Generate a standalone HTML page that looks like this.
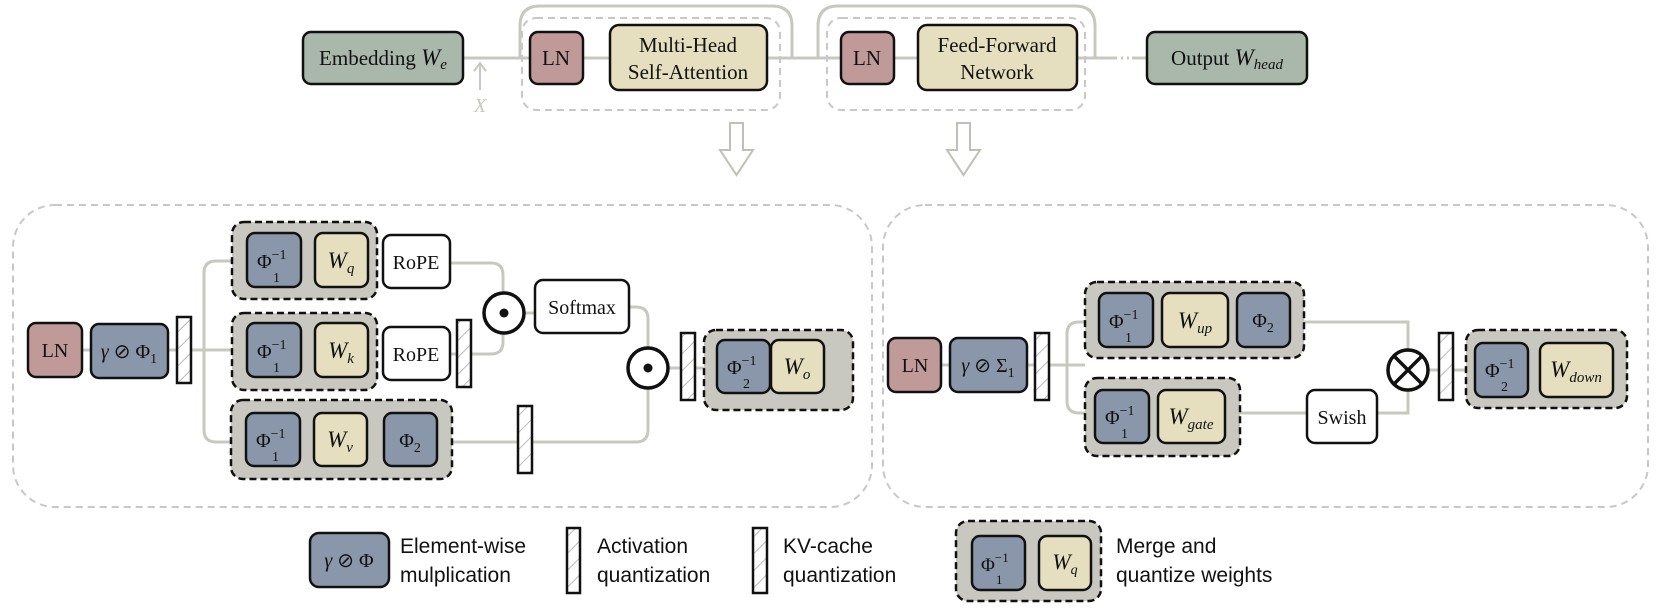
<!DOCTYPE html>
<html><head><meta charset="utf-8"><style>
html,body{margin:0;padding:0;background:#fff;}
svg{display:block;}
.s{font-family:"Liberation Serif",serif;fill:#111;}
.a{font-family:"Liberation Sans",sans-serif;fill:#111;font-size:21px;}
.i{font-style:italic;}
</style></head><body>
<svg width="1661" height="608" viewBox="0 0 1661 608" xmlns="http://www.w3.org/2000/svg">
<defs>
<pattern id="h" width="12" height="12" patternUnits="userSpaceOnUse" patternTransform="rotate(45)">
<rect width="12" height="12" fill="#fff"/><line x1="0" y1="0" x2="0" y2="12" stroke="#bbb" stroke-width="2"/>
</pattern>
</defs>
<g fill="none" stroke="#c8c8c0" stroke-width="3">
<!-- top connectors -->
<line x1="463" y1="58" x2="530" y2="58"/>
<line x1="583" y1="58" x2="610" y2="58"/>
<line x1="767" y1="58" x2="841" y2="58"/>
<line x1="894" y1="58" x2="918" y2="58"/>
<line x1="1077" y1="58" x2="1115" y2="58"/>
<line x1="1115" y1="58" x2="1130" y2="58" stroke-dasharray="2,4"/>
<line x1="1132" y1="58" x2="1147" y2="58"/>
<path d="M520 58 V26 Q520 6 540 6 H772 Q792 6 792 26 V58"/>
<path d="M818 58 V26 Q818 6 838 6 H1075 Q1095 6 1095 26 V58"/>
<line x1="480" y1="90" x2="480" y2="64" stroke-width="2"/>
<path d="M474 71 L480 63 L486 71" stroke-width="2"/>
</g>
<g fill="none" stroke="#c8c8c8" stroke-width="2" stroke-dasharray="7,5">
<rect x="522" y="18" width="258" height="92" rx="14"/>
<rect x="827" y="18" width="258" height="92" rx="14"/>
<rect x="13" y="205" width="859" height="302" rx="42"/>
<rect x="883" y="205" width="765" height="302" rx="42"/>
</g>
<text x="474" y="112" class="s i" font-size="20" fill="#c8c8c0" style="fill:#c8c8c0">X</text>
<!-- hollow arrows -->
<g fill="#fff" stroke="#c0c0b8" stroke-width="2">
<path d="M730 123 H743 V150 H753 L736.5 175 L720 150 H730 Z"/>
<path d="M957 123 H970 V150 H980 L963.5 175 L947 150 H957 Z"/>
</g>
<!-- top boxes -->
<g stroke="#111" stroke-width="2.5">
<rect x="303" y="32" width="160" height="52" rx="8" fill="#a9b8aa"/>
<rect x="530" y="32" width="53" height="52" rx="8" fill="#c09a99"/>
<rect x="610" y="25" width="157" height="65" rx="9" fill="#e5dfbf"/>
<rect x="841" y="32" width="53" height="52" rx="8" fill="#c09a99"/>
<rect x="918" y="25" width="159" height="65" rx="9" fill="#e5dfbf"/>
<rect x="1147" y="32" width="160" height="52" rx="8" fill="#a9b8aa"/>
</g>
<text x="383" y="65" class="s" font-size="21" text-anchor="middle">Embedding <tspan class="i" font-size="23">W</tspan><tspan class="i" font-size="15" dy="4">e</tspan></text>
<text x="556" y="65" class="s" font-size="21" text-anchor="middle">LN</text>
<text x="688" y="52" class="s" font-size="21" text-anchor="middle">Multi-Head</text>
<text x="688" y="79" class="s" font-size="21" text-anchor="middle">Self-Attention</text>
<text x="867" y="65" class="s" font-size="21" text-anchor="middle">LN</text>
<text x="997" y="52" class="s" font-size="21" text-anchor="middle">Feed-Forward</text>
<text x="997" y="79" class="s" font-size="21" text-anchor="middle">Network</text>
<text x="1227" y="65" class="s" font-size="21" text-anchor="middle">Output <tspan class="i" font-size="23">W</tspan><tspan class="i" font-size="15" dy="4">head</tspan></text>

<!-- LEFT PANEL connectors -->
<g fill="none" stroke="#c8c8c0" stroke-width="3">
<line x1="82" y1="350" x2="91" y2="350"/>
<line x1="168" y1="350" x2="232" y2="350"/>
<path d="M232 261 H216 Q204 261 204 273 V430 Q204 442 216 442 H231"/>
<path d="M450 263 H491 Q503 263 503 275 V292"/>
<path d="M450 354 H491 Q503 354 503 342 V334"/>
<line x1="525" y1="313" x2="535" y2="313"/>
<path d="M629 307 H636 Q648 307 648 319 V347"/>
<path d="M452 442 H636 Q648 442 648 430 V389"/>
<line x1="669" y1="368" x2="704" y2="368"/>
<line x1="1027" y1="365" x2="1085" y2="365"/>
<line x1="941" y1="365" x2="950" y2="365"/>
<path d="M1085 322 H1079 Q1067 322 1067 334 V401 Q1067 413 1079 413 H1085"/>
<path d="M1304 322 H1408 V349"/>
<path d="M1240 413 H1307"/>
<path d="M1377 413 H1408 V391"/>
<line x1="1429" y1="370" x2="1466" y2="370"/>
</g>
<!-- groups -->
<g fill="#c8c8c0" stroke="#111" stroke-width="2.5" stroke-dasharray="7,4">
<rect x="232" y="222" width="145" height="77" rx="12"/>
<rect x="232" y="313" width="145" height="77" rx="12"/>
<rect x="231" y="400" width="221" height="79" rx="12"/>
<rect x="704" y="330" width="149" height="80" rx="12"/>
<rect x="1085" y="282" width="219" height="76" rx="12"/>
<rect x="1085" y="378" width="155" height="78" rx="12"/>
<rect x="1466" y="330" width="161" height="78" rx="12"/>
<rect x="956" y="521" width="145" height="80" rx="12"/>
</g>
<!-- boxes -->
<g stroke="#111" stroke-width="2.5">
<rect x="28" y="323" width="54" height="54" rx="8" fill="#c09a99"/>
<rect x="91" y="324" width="77" height="54" rx="8" fill="#8a97ab"/>
<rect x="247" y="233" width="54" height="54" rx="8" fill="#8a97ab"/>
<rect x="315" y="233" width="53" height="54" rx="8" fill="#e5dfbf"/>
<rect x="247" y="323" width="54" height="54" rx="8" fill="#8a97ab"/>
<rect x="315" y="323" width="53" height="54" rx="8" fill="#e5dfbf"/>
<rect x="246" y="413" width="54" height="53" rx="8" fill="#8a97ab"/>
<rect x="314" y="413" width="53" height="53" rx="8" fill="#e5dfbf"/>
<rect x="384" y="413" width="53" height="53" rx="8" fill="#8a97ab"/>
<rect x="383" y="235" width="67" height="53" rx="8" fill="#fff"/>
<rect x="383" y="327" width="67" height="53" rx="8" fill="#fff"/>
<rect x="535" y="280" width="94" height="53" rx="8" fill="#fff"/>
<rect x="717" y="340" width="53" height="53" rx="8" fill="#8a97ab"/>
<rect x="771" y="340" width="53" height="53" rx="8" fill="#e5dfbf"/>
<circle cx="504" cy="313" r="20" fill="#fff" stroke-width="3.5"/>
<circle cx="648" cy="368" r="20" fill="#fff" stroke-width="3.5"/>
<rect x="888" y="338" width="53" height="54" rx="8" fill="#c09a99"/>
<rect x="950" y="338" width="77" height="54" rx="8" fill="#8a97ab"/>
<rect x="1099" y="293" width="54" height="54" rx="8" fill="#8a97ab"/>
<rect x="1162" y="293" width="66" height="54" rx="8" fill="#e5dfbf"/>
<rect x="1237" y="293" width="53" height="54" rx="8" fill="#8a97ab"/>
<rect x="1095" y="390" width="54" height="53" rx="8" fill="#8a97ab"/>
<rect x="1158" y="390" width="67" height="53" rx="8" fill="#e5dfbf"/>
<rect x="1307" y="390" width="70" height="53" rx="8" fill="#fff"/>
<circle cx="1408" cy="370" r="20" fill="#fff" stroke-width="3.5"/>
<rect x="1475" y="343" width="53" height="54" rx="8" fill="#8a97ab"/>
<rect x="1540" y="343" width="73" height="54" rx="8" fill="#e5dfbf"/>
<rect x="310" y="533" width="79" height="54" rx="9" fill="#8a97ab"/>
<rect x="972" y="536" width="53" height="54" rx="8" fill="#8a97ab"/>
<rect x="1039" y="536" width="52" height="54" rx="8" fill="#e5dfbf"/>
</g>
<!-- bars -->
<g stroke="#111" stroke-width="2.5" fill="url(#h)">
<rect x="177" y="317" width="14" height="66"/>
<rect x="457" y="320" width="14" height="67"/>
<rect x="518" y="406" width="14" height="67"/>
<rect x="681" y="333" width="14" height="67"/>
<rect x="1035" y="333" width="14" height="67"/>
<rect x="1439" y="333" width="14" height="67"/>
<rect x="567" y="528" width="13" height="65"/>
<rect x="753" y="528" width="14" height="65"/>
</g>
<!-- circle symbols -->
<circle cx="504" cy="313" r="4.5" fill="#111"/>
<circle cx="648" cy="368" r="4.5" fill="#111"/>
<g stroke="#111" stroke-width="3.5"><line x1="1394" y1="356" x2="1422" y2="384"/><line x1="1422" y1="356" x2="1394" y2="384"/></g>

<!-- labels -->
<g class="s" font-size="20">
<text x="55" y="357" text-anchor="middle">LN</text>
<text x="129" y="358" text-anchor="middle"><tspan class="i">γ</tspan> ⊘ Φ<tspan font-size="14" dy="5">1</tspan></text>
<text x="915" y="372" text-anchor="middle">LN</text>
<text x="988" y="372" text-anchor="middle"><tspan class="i">γ</tspan> ⊘ Σ<tspan font-size="14" dy="5">1</tspan></text>
<text x="416" y="269" text-anchor="middle">RoPE</text>
<text x="416" y="361" text-anchor="middle">RoPE</text>
<text x="582" y="314" text-anchor="middle">Softmax</text>
<text x="1342" y="424" text-anchor="middle">Swish</text>
<text x="410" y="447" text-anchor="middle">Φ<tspan font-size="14" dy="5">2</tspan></text>
<text x="1263" y="327" text-anchor="middle">Φ<tspan font-size="14" dy="5">2</tspan></text>
</g>
<!-- Phi inverse labels -->
<g class="s">
<text x="257" y="268" font-size="20">Φ<tspan font-size="14" dy="-9">−1</tspan></text><text x="273" y="282" font-size="14">1</text>
<text x="257" y="358" font-size="20">Φ<tspan font-size="14" dy="-9">−1</tspan></text><text x="273" y="372" font-size="14">1</text>
<text x="256" y="447" font-size="20">Φ<tspan font-size="14" dy="-9">−1</tspan></text><text x="272" y="461" font-size="14">1</text>
<text x="727" y="374" font-size="20">Φ<tspan font-size="14" dy="-9">−1</tspan></text><text x="743" y="388" font-size="14">2</text>
<text x="1109" y="328" font-size="20">Φ<tspan font-size="14" dy="-9">−1</tspan></text><text x="1125" y="342" font-size="14">1</text>
<text x="1105" y="424" font-size="20">Φ<tspan font-size="14" dy="-9">−1</tspan></text><text x="1121" y="438" font-size="14">1</text>
<text x="1485" y="377" font-size="20">Φ<tspan font-size="14" dy="-9">−1</tspan></text><text x="1501" y="391" font-size="14">2</text>
<text x="981" y="571" font-size="19">Φ<tspan font-size="13" dy="-9">−1</tspan></text><text x="996" y="584" font-size="13">1</text>
</g>
<g class="s i">
<text x="341" y="268" font-size="23" text-anchor="middle">W<tspan font-size="15" dy="5">q</tspan></text>
<text x="341" y="358" font-size="23" text-anchor="middle">W<tspan font-size="15" dy="5">k</tspan></text>
<text x="340" y="447" font-size="23" text-anchor="middle">W<tspan font-size="15" dy="5">v</tspan></text>
<text x="797" y="374" font-size="23" text-anchor="middle">W<tspan font-size="15" dy="5">o</tspan></text>
<text x="1195" y="328" font-size="23" text-anchor="middle">W<tspan font-size="15" dy="5">up</tspan></text>
<text x="1191" y="424" font-size="23" text-anchor="middle">W<tspan font-size="15" dy="5">gate</tspan></text>
<text x="1576" y="377" font-size="23" text-anchor="middle">W<tspan font-size="15" dy="5">down</tspan></text>
<text x="1065" y="569" font-size="22" text-anchor="middle">W<tspan font-size="14" dy="5">q</tspan></text>
</g>
<text x="349" y="567" class="s" font-size="20" text-anchor="middle"><tspan class="i">γ</tspan> ⊘ Φ</text>
<!-- legend text -->
<text x="400" y="553" class="a">Element-wise</text>
<text x="400" y="582" class="a">mulplication</text>
<text x="597" y="553" class="a">Activation</text>
<text x="597" y="582" class="a">quantization</text>
<text x="783" y="553" class="a">KV-cache</text>
<text x="783" y="582" class="a">quantization</text>
<text x="1116" y="553" class="a">Merge and</text>
<text x="1116" y="582" class="a">quantize weights</text>
</svg>
</body></html>
